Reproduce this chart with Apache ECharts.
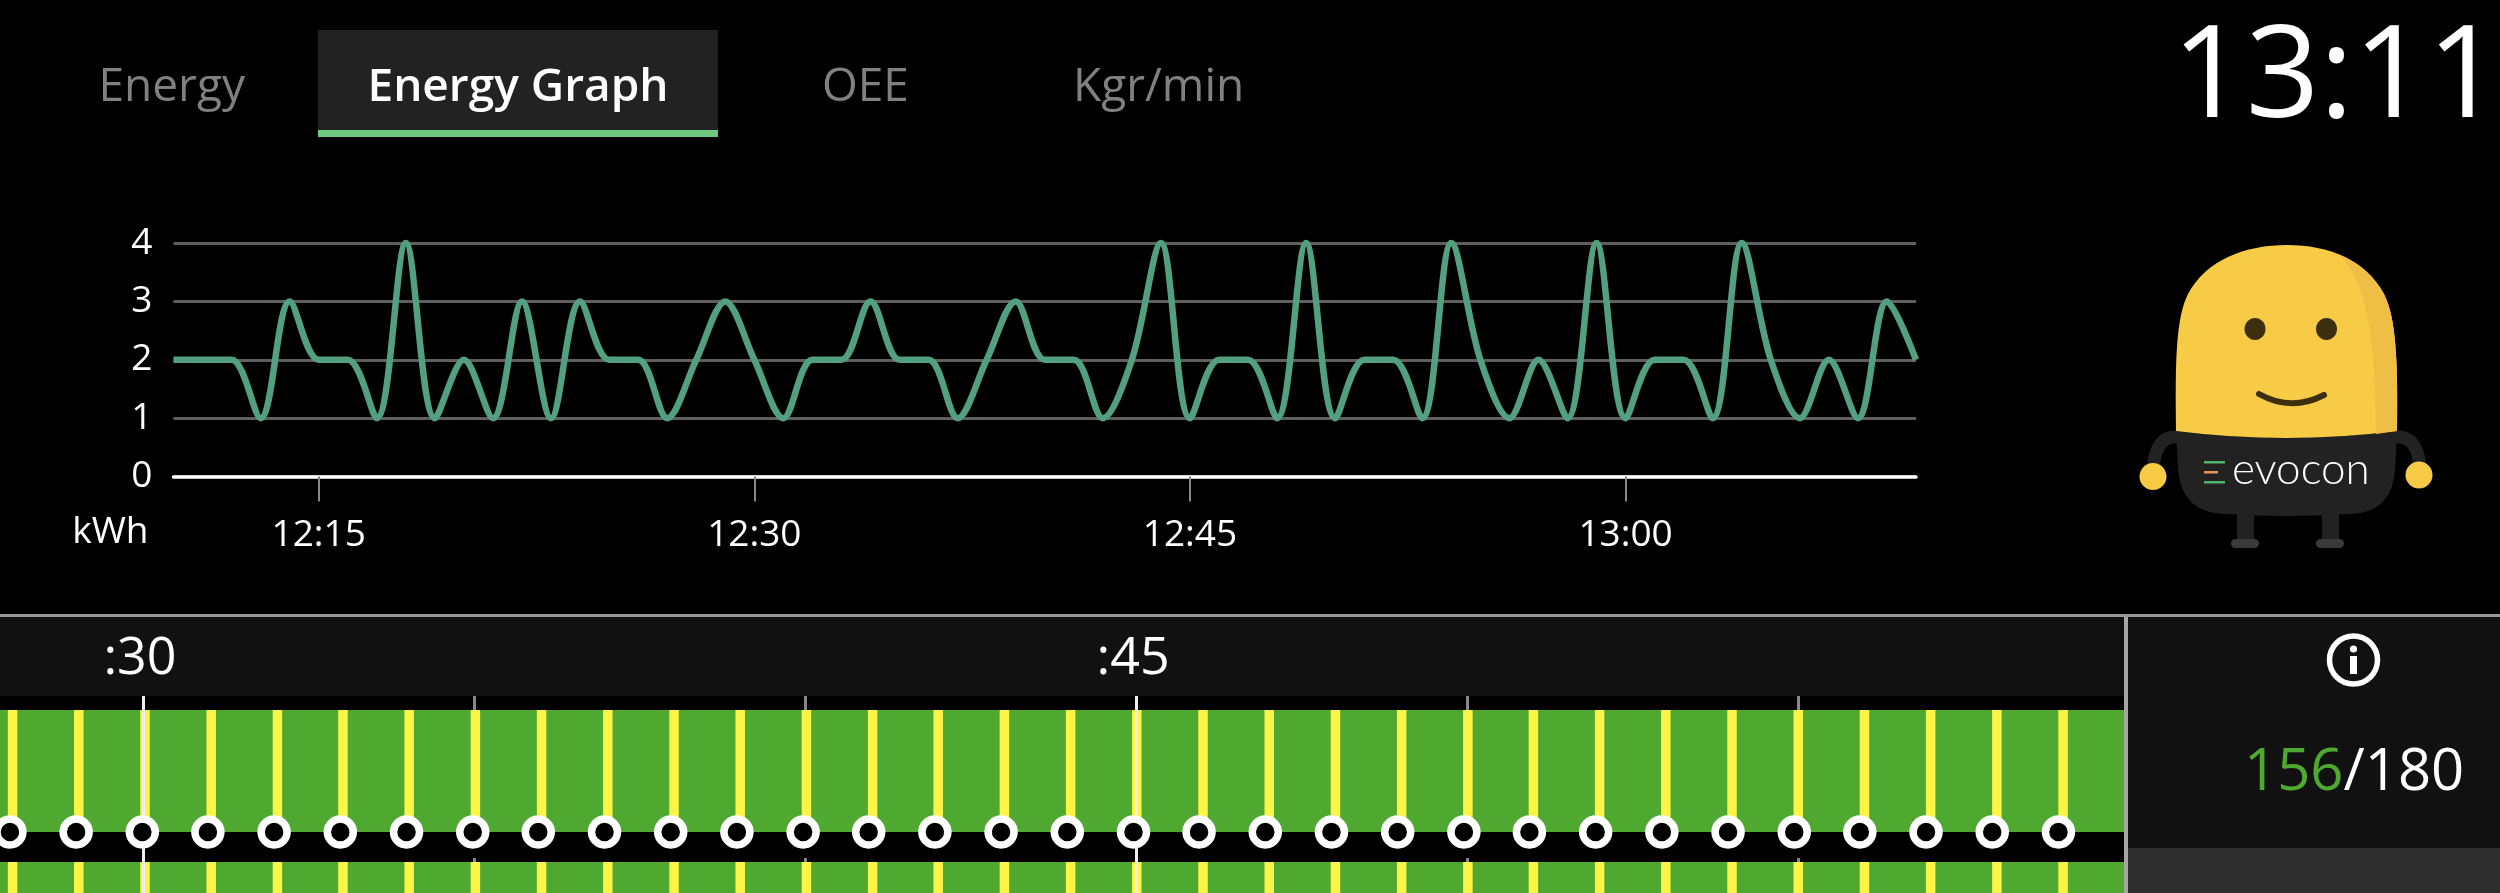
<!DOCTYPE html>
<html>
<head>
<meta charset="utf-8">
<title>Energy Graph</title>
<script src="https://cdn.jsdelivr.net/npm/echarts@6/dist/echarts.min.js"></script>
<style>
  html, body { margin: 0; padding: 0; background: #000; }
  #chart { width: 2500px; height: 893px; }
</style>
</head>
<body>
<div id="chart"></div>
<script>
// energy per minute, 12:10 to 13:10
const timeLabels = [
  '12:10','12:11','12:12','12:13','12:14','12:15','12:16','12:17','12:18','12:19',
  '12:20','12:21','12:22','12:23','12:24','12:25','12:26','12:27','12:28','12:29',
  '12:30','12:31','12:32','12:33','12:34','12:35','12:36','12:37','12:38','12:39',
  '12:40','12:41','12:42','12:43','12:44','12:45','12:46','12:47','12:48','12:49',
  '12:50','12:51','12:52','12:53','12:54','12:55','12:56','12:57','12:58','12:59',
  '13:00','13:01','13:02','13:03','13:04','13:05','13:06','13:07','13:08','13:09','13:10'
];
const energyKwh = [
  2,2,2,1,3,2,2,1,4,1,
  2,1,3,1,3,2,2,1,2,3,
  2,1,2,2,3,2,2,1,2,3,
  2,2,1,2,4,1,2,2,1,4,
  1,2,2,1,4,2,1,2,1,4,
  1,2,2,1,4,2,1,2,1,3,2
];
const shownTimes = ['12:15', '12:30', '12:45', '13:00'];

// production timeline, x in minutes of the hour
const timelineRange = [27.84, 59.92];
const goodRuns = [[27.84, 59.92]];
const stripeMinutes = [
  28.03,29.03,30.03,31.03,32.03,33.02,34.02,35.02,36.02,37.02,38.02,
  39.02,40.02,41.02,42.01,43.01,44.01,45.01,46.01,47.01,48.01,49.01,
  50.01,51.0,52.0,53.0,54.0,55.0,56.0,57.0,58.0,59.0
];
const cycleMinutes = [
  27.99,28.99,29.99,30.98,31.98,32.98,33.98,34.98,35.97,36.97,37.97,
  38.97,39.97,40.96,41.96,42.96,43.96,44.96,45.95,46.95,47.95,48.95,
  49.95,50.94,51.94,52.94,53.94,54.94,55.93,56.93,57.93,58.93
];
const majorMinutes = [30, 45];
const minorMinutes = [35, 40, 50, 55];

const tabs = [
  { name: 'Energy', x: 98.5 },
  { name: 'OEE', x: 822 },
  { name: 'Kgr/min', x: 1073 }
];

const FONT = '"Open Sans", sans-serif';
const SPLIT = 2124;

function timelineAxis(gridIndex, extra) {
  return Object.assign({
    type: 'value',
    gridIndex: gridIndex,
    min: timelineRange[0],
    max: timelineRange[1],
    position: 'top',
    axisLine: { show: false, onZero: false },
    axisLabel: { show: false },
    axisTick: { show: false },
    splitLine: { show: false }
  }, extra);
}

function laneY(gridIndex) {
  return { type: 'value', gridIndex: gridIndex, min: 0, max: 1, show: false };
}

function runItem(params, api) {
  const a = api.coord([api.value(0), 1]);
  const b = api.coord([api.value(1), 0]);
  return {
    type: 'rect',
    shape: { x: a[0], y: a[1], width: b[0] - a[0], height: b[1] - a[1] },
    style: { fill: '#4fa82f' }
  };
}

function laneSeries(axisIndex) {
  return [
    {
      type: 'custom', xAxisIndex: axisIndex, yAxisIndex: axisIndex, z: 1,
      renderItem: runItem, data: goodRuns, encode: { x: [0, 1] }, silent: true
    },
    {
      type: 'bar', xAxisIndex: axisIndex, yAxisIndex: axisIndex, z: 2,
      barWidth: 9.5, itemStyle: { color: '#fcf548' }, silent: true,
      data: stripeMinutes.map(m => [m, 1])
    }
  ];
}

// mascot outlines, the graphic component has no plain path type
function pathShape(name, d) {
  echarts.graphic.registerShape(name, echarts.graphic.extendPath(d));
  return name;
}

const graphicBack = [
  { type: 'rect', z: -10, shape: { x: 0, y: 617, width: 2500, height: 276 }, style: { fill: '#111' } },
  { type: 'rect', z: -9, shape: { x: 0, y: 696, width: SPLIT, height: 197 }, style: { fill: '#000' } },
  { type: 'rect', z: -9, shape: { x: 2128, y: 848, width: 372, height: 45 }, style: { fill: '#2e2e2e' } },
  { type: 'rect', z: -8, shape: { x: 0, y: 614, width: 2500, height: 3 }, style: { fill: '#999' } },
  { type: 'rect', z: -8, shape: { x: SPLIT, y: 617, width: 4, height: 276 }, style: { fill: '#a5a5a5' } },
  { type: 'rect', z: -8, shape: { x: 318, y: 30, width: 400, height: 100 }, style: { fill: '#222' } },
  { type: 'rect', z: -8, shape: { x: 318, y: 130, width: 400, height: 7 }, style: { fill: '#6cc97d' } }
];

const graphicText = tabs.map(t => ({
  type: 'text', x: t.x, y: 88,
  style: { text: t.name, fill: '#808080', font: '46px ' + FONT, verticalAlign: 'middle' }
})).concat([
  { type: 'text', x: 518, y: 88, style: { text: 'Energy Graph', fill: '#fff', font: '600 46px ' + FONT, align: 'center', verticalAlign: 'middle' } },
  { type: 'text', x: 2501, y: 80, style: { text: '13:11', fill: '#fff', font: '129px ' + FONT, align: 'right', verticalAlign: 'middle' } },
  {
    type: 'text', x: 2244, y: 773,
    style: {
      text: '{g|156}{w|/180}', verticalAlign: 'middle',
      rich: {
        g: { fill: '#4fa82f', font: '58px ' + FONT },
        w: { fill: '#fff', font: '58px ' + FONT }
      }
    }
  },
  { type: 'circle', shape: { cx: 2353.5, cy: 660, r: 24 }, style: { fill: 'none', stroke: '#fff', lineWidth: 5.5 } },
  { type: 'circle', shape: { cx: 2353.5, cy: 649, r: 3.6 }, style: { fill: '#fff' } },
  { type: 'rect', shape: { x: 2350, y: 656, width: 7, height: 18 }, style: { fill: '#fff' } }
]);

const graphicMascot = [
  { type: pathShape('armLeft', 'M2178 437 Q2156 435 2153 468'), style: { fill: 'none', stroke: '#222', lineWidth: 13 } },
  { type: pathShape('armRight', 'M2395 437 Q2418 435 2420 468'), style: { fill: 'none', stroke: '#222', lineWidth: 13 } },
  { type: 'circle', shape: { cx: 2153, cy: 476.5, r: 13.5 }, style: { fill: '#f7cb45' } },
  { type: 'circle', shape: { cx: 2419, cy: 475, r: 13.5 }, style: { fill: '#f7cb45' } },
  { type: 'rect', shape: { x: 2237, y: 510, width: 17, height: 32 }, style: { fill: '#222' } },
  { type: 'rect', shape: { x: 2322, y: 510, width: 17, height: 32 }, style: { fill: '#222' } },
  { type: 'rect', shape: { x: 2231, y: 539, width: 28, height: 9, r: 4.5 }, style: { fill: '#3a3a3a' } },
  { type: 'rect', shape: { x: 2316, y: 539, width: 28, height: 9, r: 4.5 }, style: { fill: '#3a3a3a' } },
  { type: pathShape('body', 'M2176 431 Q2286 445 2397 431 L2395 470 Q2392 513 2350 514 Q2286 518 2225 514 Q2182 513 2178 470 Z'), style: { fill: '#222' } },
  { type: pathShape('head', 'M2176 431 C2175 360 2176 318 2188 294 C2206 260 2245 245 2287 245 C2329 245 2366 260 2384 294 C2396 318 2398 360 2397 431 Q2286 445 2176 431 Z'), style: { fill: '#f7cb45' } },
  { type: pathShape('headShade', 'M2338 254 C2365 277 2376 333 2376 434 L2397 431 C2398 360 2396 318 2384 294 C2374 276 2357 262 2338 254 Z'), style: { fill: '#efbe45' } },
  { type: 'ellipse', shape: { cx: 2255, cy: 329, rx: 10.5, ry: 11 }, style: { fill: '#3d2f0e' } },
  { type: 'ellipse', shape: { cx: 2326.5, cy: 329, rx: 10.5, ry: 11 }, style: { fill: '#3d2f0e' } },
  { type: pathShape('smile', 'M2259 394 Q2291 412 2324 395'), style: { fill: 'none', stroke: '#3d2f0e', lineWidth: 6, lineCap: 'round' } },
  { type: 'rect', shape: { x: 2204, y: 461, width: 21, height: 2.5 }, style: { fill: '#4fb36c' } },
  { type: 'rect', shape: { x: 2204, y: 471, width: 14, height: 2.5 }, style: { fill: '#e8935a' } },
  { type: 'rect', shape: { x: 2204, y: 481, width: 21, height: 2.5 }, style: { fill: '#4fb36c' } },
  { type: 'text', x: 2232, y: 470, style: { text: 'evocon', fill: '#fff', font: '300 44px Lato, sans-serif', verticalAlign: 'middle' } }
];

const chart = echarts.init(document.getElementById('chart'), null, { renderer: 'canvas' });

chart.setOption({
  backgroundColor: '#000',
  animation: false,
  graphic: { elements: graphicBack.concat(graphicText, graphicMascot) },
  grid: [
    { left: 173.5, top: 243, width: 1742.5, height: 233.5 },
    { left: 0, top: 710, width: SPLIT, height: 122 },
    { left: 0, top: 862, width: SPLIT, height: 122 },
    { left: 0, top: 696, width: SPLIT, height: 197 }
  ],
  xAxis: [
    {
      type: 'category',
      gridIndex: 0,
      boundaryGap: false,
      data: timeLabels,
      axisLine: { lineStyle: { color: '#fff', width: 3.5 } },
      axisTick: {
        length: 25,
        lineStyle: { color: '#888', width: 2 },
        interval: (i, v) => shownTimes.includes(v)
      },
      axisLabel: {
        color: '#fff', fontFamily: FONT, fontSize: 37, margin: 40,
        interval: (i, v) => shownTimes.includes(v)
      },
      splitLine: { show: false }
    },
    timelineAxis(1, {
      z: 3,
      axisTick: { show: true, length: 14, customValues: minorMinutes, lineStyle: { color: '#888', width: 3 } }
    }),
    timelineAxis(2, {
      z: 3,
      axisTick: { show: true, length: 4, customValues: minorMinutes, lineStyle: { color: '#888', width: 3 } }
    }),
    timelineAxis(3, {
      z: 3,
      axisTick: { show: false, customValues: majorMinutes },
      splitLine: { show: true, lineStyle: { color: '#eee', width: 3 } },
      axisLabel: {
        show: true, customValues: majorMinutes,
        color: '#fff', fontFamily: FONT, fontSize: 52, margin: 11,
        padding: [0, 6, 0, 0],
        formatter: v => ':' + v
      }
    })
  ],
  yAxis: [
    {
      type: 'value',
      gridIndex: 0,
      min: 0,
      max: 4,
      interval: 1,
      name: 'kWh',
      nameLocation: 'start',
      nameGap: 56,
      nameTextStyle: { color: '#fff', fontFamily: FONT, fontSize: 37, align: 'right', verticalAlign: 'middle', padding: [0, 25, 0, 0] },
      axisLine: { show: false },
      axisTick: { show: false },
      axisLabel: { color: '#fff', fontFamily: FONT, fontSize: 37, margin: 21 },
      splitLine: { lineStyle: { color: '#5f5f5f', width: 3 } }
    },
    laneY(1),
    laneY(2),
    laneY(3)
  ],
  series: [
    {
      type: 'line',
      xAxisIndex: 0,
      yAxisIndex: 0,
      data: energyKwh,
      smooth: 0.33,
      showSymbol: false,
      clip: false,
      lineStyle: { color: '#52a07f', width: 6.5 },
      silent: true
    },
    ...laneSeries(1),
    ...laneSeries(2),
    {
      type: 'scatter',
      xAxisIndex: 1,
      yAxisIndex: 1,
      z: 5,
      clip: false,
      symbolSize: 26,
      itemStyle: { color: '#000', borderColor: '#fff', borderWidth: 7.5, opacity: 1 },
      data: cycleMinutes.map(m => [m, 0]),
      silent: true
    }
  ]
});
</script>
</body>
</html>
